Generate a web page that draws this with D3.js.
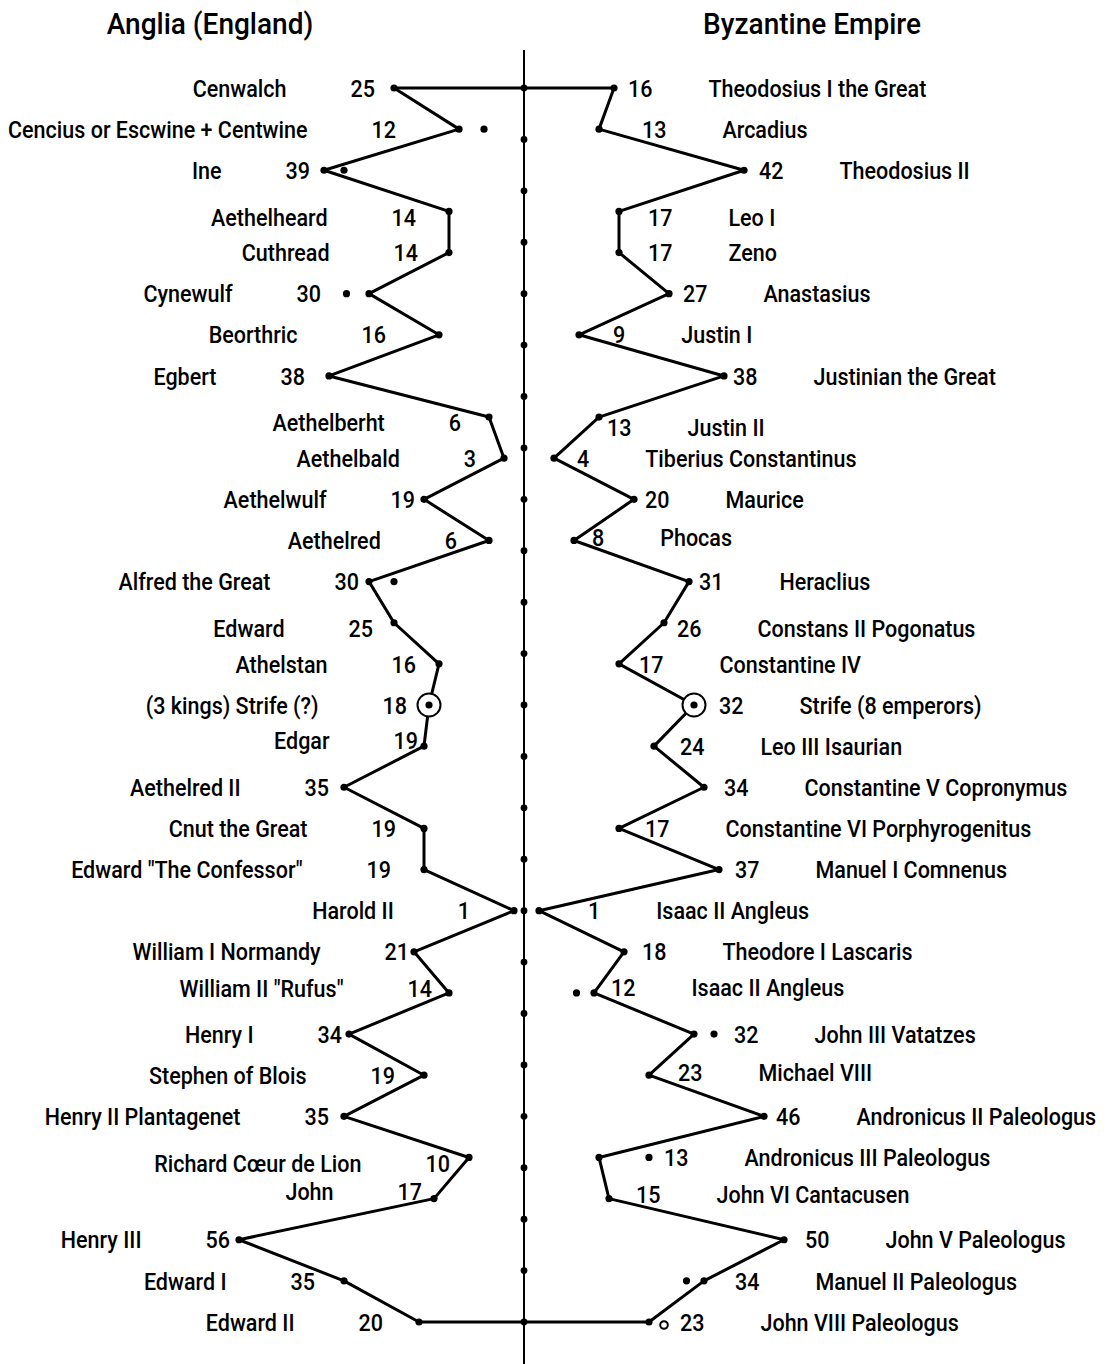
<!DOCTYPE html>
<html>
<head>
<meta charset="utf-8">
<script src="https://cdn.jsdelivr.net/npm/d3@7"></script>
<style>
  body { margin: 0; background: #fff; }
  text { font-family: Roboto, "Liberation Sans", Arial, sans-serif; font-weight: 500; fill: #000; }
</style>
</head>
<body>
<svg id="chart" width="1114" height="1364"></svg>
<script>
// ---------- data ----------
const leftTitle = "Anglia (England)";
const rightTitle = "Byzantine Empire";

const leftNames = [
  "Cenwalch", "Cencius or Escwine + Centwine", "Ine", "Aethelheard", "Cuthread",
  "Cynewulf", "Beorthric", "Egbert", "Aethelberht", "Aethelbald",
  "Aethelwulf", "Aethelred", "Alfred the Great", "Edward", "Athelstan",
  "(3 kings) Strife (?)", "Edgar", "Aethelred II", "Cnut the Great", "Edward \"The Confessor\"",
  "Harold II", "William I Normandy", "William II \"Rufus\"", "Henry I", "Stephen of Blois",
  "Henry II Plantagenet", "Richard Cœur de Lion", "John", "Henry III", "Edward I",
  "Edward II"
];
const leftYears = [25, 12, 39, 14, 14, 30, 16, 38, 6, 3, 19, 6, 30, 25, 16, 18, 19, 35, 19, 19,
  1, 21, 14, 34, 19, 35, 10, 17, 56, 35, 20];

const rightNames = [
  "Theodosius I the Great", "Arcadius", "Theodosius II", "Leo I", "Zeno",
  "Anastasius", "Justin I", "Justinian the Great", "Justin II", "Tiberius Constantinus",
  "Maurice", "Phocas", "Heraclius", "Constans II Pogonatus", "Constantine IV",
  "Strife (8 emperors)", "Leo III Isaurian", "Constantine V Copronymus", "Constantine VI Porphyrogenitus", "Manuel I Comnenus",
  "Isaac II Angleus", "Theodore I Lascaris", "Isaac II Angleus", "John III Vatatzes", "Michael VIII",
  "Andronicus II Paleologus", "Andronicus III Paleologus", "John VI Cantacusen", "John V Paleologus", "Manuel II Paleologus",
  "John VIII Paleologus"
];
const rightYears = [16, 13, 42, 17, 17, 27, 9, 38, 13, 4, 20, 8, 31, 26, 17, 32, 24, 34, 17, 37,
  1, 18, 12, 32, 23, 46, 13, 15, 50, 34, 23];

// "strife" periods (circled marks), by row
const leftStrifeRows = [15];
const rightStrifeRows = [15];

// small extra marks beside some rulers (row, estimated value)
const leftExtraRows = [1, 2, 5, 12];
const leftExtraValues = [7, 35, 34.5, 25];
const rightExtraRows = [22, 23, 26, 29];
const rightExtraValues = [8.5, 36, 23, 30.5];
const rightOpenRows = [30];
const rightOpenValues = [26];

// number of marks on the central time axis
const axisTickCount = 25;

// label placement nudges, hand-set as in the original:
// horizontal gap (px) between point and its number, and small vertical shifts
const leftNumGap = [19, 63, 14, 33, 31, 48, 53, 24, 28, 28, 9, 32, 10, 21, 23, 22, 6, 15, 28, 33,
  44, 5, 17, 7, 29, 15, 19, 12, 9, 29, 36];
const rightNumGap = [14, 43, 15, 29, 29, 14, 34, 9, 8, 23, 11, 18, 10, 13, 20, 25, 26, 20, 26, 16,
  49, 18, 17, 40, 29, 12, 65, 27, 21, 31, 31];
const leftLabelDy = [0, 0, 0, 6, 0, 0, 0, 0, 5, 0, 0, 0, 0, 6, 0, 0, -6, 0, 0, 0,
  0, 0, -5, 0, 0, 0, 6, -7, 0, 0, 0];
const rightLabelDy = [0, 0, 0, 6, 0, 0, 0, 0, 10, 0, 0, -3, 0, 6, 0, 0, 0, 0, 0, 0,
  0, 0, -6, 0, -3, 0, 0, -4, 0, 0, 0];

// ---------- layout ----------
const W = 1114, H = 1364;
const cx = 524;
const svg = d3.select("#chart");

const y = d3.scaleLinear().domain([0, leftNames.length - 1]).range([88, 1322]);
const yTick = d3.scaleLinear().domain([0, axisTickCount - 1]).range([88, 1322]);
const xL = d3.scaleLinear().domain([0, 56]).range([cx - 5, cx - 285]);
const xR = d3.scaleLinear().domain([0, 50]).range([cx + 10, cx + 260]);

const leftPts = leftYears.map((v, i) => ({ x: xL(v), y: y(i), v, i }));
const rightPts = rightYears.map((v, i) => ({ x: xR(v), y: y(i), v, i }));

const ink = "#000";

// central axis
svg.append("line")
  .attr("x1", cx).attr("x2", cx).attr("y1", 50).attr("y2", H)
  .attr("stroke", ink).attr("stroke-width", 2);

// horizontal connectors top and bottom
const topPair = [leftPts[0], rightPts[0]];
const botPair = [leftPts[leftPts.length - 1], rightPts[rightPts.length - 1]];
[topPair, botPair].forEach(pair => {
  svg.append("line")
    .attr("x1", pair[0].x).attr("x2", pair[1].x)
    .attr("y1", pair[0].y).attr("y2", pair[1].y)
    .attr("stroke", ink).attr("stroke-width", 3);
});

const lineGen = d3.line().x(d => d.x).y(d => d.y);
svg.append("path").datum(leftPts).attr("d", lineGen)
  .attr("fill", "none").attr("stroke", ink).attr("stroke-width", 3).attr("stroke-linejoin", "round");
svg.append("path").datum(rightPts).attr("d", lineGen)
  .attr("fill", "none").attr("stroke", ink).attr("stroke-width", 3).attr("stroke-linejoin", "round");

// axis dots
svg.append("g").selectAll("circle").data(d3.range(axisTickCount)).join("circle")
  .attr("cx", cx).attr("cy", d => yTick(d)).attr("r", 3.4).attr("fill", ink);

// strife rings
svg.append("g").selectAll("circle")
  .data(leftStrifeRows.map(i => leftPts[i]).concat(rightStrifeRows.map(i => rightPts[i])))
  .join("circle")
  .attr("cx", d => d.x).attr("cy", d => d.y).attr("r", 11.5)
  .attr("fill", "#fff").attr("stroke", ink).attr("stroke-width", 2);

// ruler points
svg.append("g").selectAll("circle").data(leftPts.concat(rightPts)).join("circle")
  .attr("cx", d => d.x).attr("cy", d => d.y).attr("r", 3.6).attr("fill", ink);

// extra small marks
const extras = leftExtraRows.map((r, k) => ({ x: xL(leftExtraValues[k]), y: y(r) }))
  .concat(rightExtraRows.map((r, k) => ({ x: xR(rightExtraValues[k]), y: y(r) })));
svg.append("g").selectAll("circle").data(extras).join("circle")
  .attr("cx", d => d.x).attr("cy", d => d.y).attr("r", 3.6).attr("fill", ink);
const opens = rightOpenRows.map((r, k) => ({ x: xR(rightOpenValues[k]), y: y(r) }));
svg.append("g").selectAll("circle").data(opens).join("circle")
  .attr("cx", d => d.x).attr("cy", d => d.y + 3).attr("r", 3.8)
  .attr("fill", "#fff").attr("stroke", ink).attr("stroke-width", 2);

// ---------- condensed text helper ----------
function measure(str, size) {
  const t = svg.append("text").attr("font-size", size).text(str);
  const w = t.node().getComputedTextLength();
  t.remove();
  return w;
}
const FS = 24, FT = 29;
// horizontal squeeze so the text matches the condensed face of the original
const sx = 218 / measure("Theodosius I the Great", FS);
const sxT = 218 / measure(rightTitle, FT);

function label(g, x, yy, str, anchor, size, s, dy) {
  const t = g.append("text")
    .attr("transform", `translate(${x},${yy}) scale(${s},1)`)
    .attr("dy", dy == null ? "0.36em" : dy)
    .attr("text-anchor", anchor).attr("font-size", size).text(str);
  return t.node().getComputedTextLength() * s;
}

// titles
const gT = svg.append("g");
label(gT, 210, 34, leftTitle, "middle", FT, sxT, 0);
label(gT, 812, 34, rightTitle, "middle", FT, sxT, 0);

// labels
const gL = svg.append("g");
leftPts.forEach((p, i) => {
  const numEnd = p.x - leftNumGap[i];
  const ly = p.y + leftLabelDy[i];
  const len = label(gL, numEnd, ly, leftYears[i], "end", FS, sx);
  label(gL, numEnd - len - 64, ly, leftNames[i], "end", FS, sx);
});
const gR = svg.append("g");
rightPts.forEach((p, i) => {
  const numStart = p.x + rightNumGap[i];
  const ly = p.y + rightLabelDy[i];
  const len = label(gR, numStart, ly, rightYears[i], "start", FS, sx);
  label(gR, numStart + len + 56, ly, rightNames[i], "start", FS, sx);
});
</script>
</body>
</html>
